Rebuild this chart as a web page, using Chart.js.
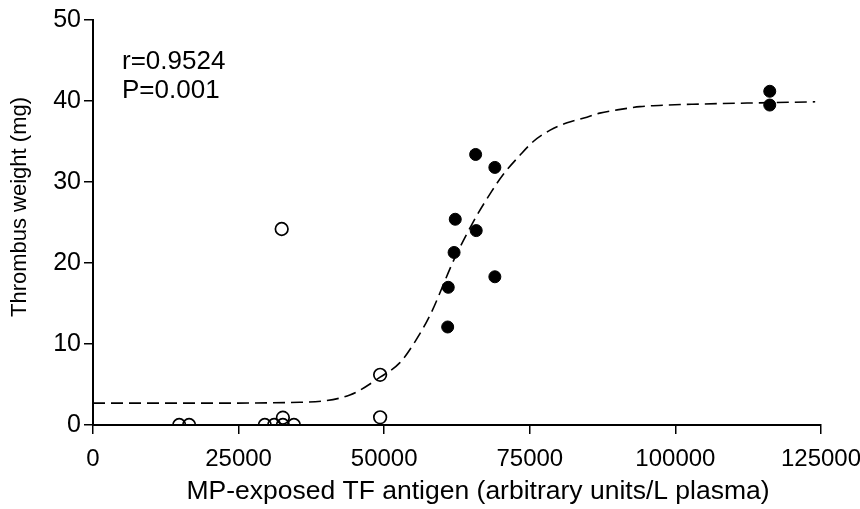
<!DOCTYPE html>
<html lang="en">
<head>
  <meta charset="UTF-8">
  <title>Thrombus weight vs MP-exposed TF antigen</title>
  <script src="https://cdn.jsdelivr.net/npm/chart.js"></script>
  <style>
    body { margin: 0; background: #ffffff; }
  </style>
</head>
<body>
  <canvas id="chart" width="860" height="509"></canvas>
  <script>
    // open circles (x, y)
    const openX = [14800, 16500, 29500, 31100, 32600, 32600, 34500, 32400, 49300, 49300];
    const openY = [0, 0, 0, 0, 0, 0.9, 0, 24.2, 6.2, 0.95];

    // filled circles
    const filledX = [65700, 69000, 62200, 65800, 62000, 69000, 61000, 60900, 116200, 116200];
    const filledY = [33.4, 31.8, 25.4, 24.0, 21.3, 18.3, 17.0, 12.1, 41.2, 39.5];

    // fitted curve
    const curveX = [0, 18000, 35500, 44100, 49300, 52700, 55300, 57900, 62100, 65700, 68500, 70400, 73300, 75600, 78500, 81400, 84800, 87000, 90000, 93900, 98600, 103000, 124000];
    const curveY = [2.7, 2.7, 2.8, 3.7, 5.9, 7.7, 10.3, 13.6, 20.6, 25.6, 28.9, 30.9, 33.3, 35.0, 36.4, 37.3, 38.0, 38.5, 38.9, 39.3, 39.5, 39.6, 39.9];

    const xTicks = [0, 25000, 50000, 75000, 100000, 125000];
    const yTicks = [0, 10, 20, 30, 40, 50];

    const xTitle = 'MP-exposed TF antigen (arbitrary units/L plasma)';
    const yTitle = 'Thrombus weight (mg)';
    const statLines = ['r=0.9524', 'P=0.001'];

    const toPts = (xs, ys) => xs.map((x, i) => ({ x: x, y: ys[i] }));

    const family = '"Liberation Sans", Arial, sans-serif';

    // stats block and axis titles (titles are off-centre in the original)
    const extraText = {
      id: 'extraText',
      afterDraw(chart) {
        const ctx = chart.ctx;
        ctx.save();
        ctx.fillStyle = '#000';
        ctx.textBaseline = 'middle';
        ctx.font = '26px ' + family;
        ctx.fillText(statLines[0], 122, 62);
        ctx.fillText(statLines[1], 122, 91);
        ctx.font = '26.5px ' + family;
        ctx.textAlign = 'center';
        ctx.fillText(xTitle, 478, 492);
        ctx.translate(20, 207);
        ctx.rotate(-Math.PI / 2);
        ctx.font = '22px ' + family;
        ctx.fillText(yTitle, 0, 0);
        ctx.restore();
      }
    };

    new Chart(document.getElementById('chart'), {
      type: 'scatter',
      data: {
        datasets: [
          {
            type: 'line',
            data: toPts(curveX, curveY),
            borderColor: '#000',
            borderWidth: 1.6,
            borderDash: [12, 6],
            pointRadius: 0,
            fill: false,
            cubicInterpolationMode: 'monotone'
          },
          {
            data: toPts(openX, openY),
            pointRadius: 6.3,
            pointBorderWidth: 1.7,
            pointBorderColor: '#000',
            pointBackgroundColor: 'rgba(255,255,255,0)'
          },
          {
            data: toPts(filledX, filledY),
            pointRadius: 6,
            pointBorderWidth: 1,
            pointBorderColor: '#000',
            pointBackgroundColor: '#000'
          }
        ]
      },
      options: {
        responsive: false,
        animation: false,
        devicePixelRatio: 1,
        layout: { padding: { top: 20, right: 0, bottom: 0, left: 0 } },
        plugins: { legend: { display: false }, tooltip: { enabled: false } },
        scales: {
          x: {
            type: 'linear',
            min: 0,
            max: 125000,
            afterBuildTicks: s => { s.ticks = xTicks.map(v => ({ value: v })); },
            afterFit: s => { s.height = 84; s.paddingLeft = 0; s.paddingRight = 39; },
            grid: { drawOnChartArea: false, drawTicks: true, tickLength: 9, color: '#000', lineWidth: 1.5 },
            border: { color: '#000', width: 2 },
            ticks: { color: '#000', font: { family: family, size: 24 }, padding: 11, maxRotation: 0, callback: v => String(v) },
            title: { display: false }
          },
          y: {
            min: 0,
            max: 50,
            afterBuildTicks: s => { s.ticks = yTicks.map(v => ({ value: v })); },
            afterFit: s => { s.width = 93; s.paddingTop = 0; s.paddingBottom = 0; },
            grid: { drawOnChartArea: false, drawTicks: true, tickLength: 9, color: '#000', lineWidth: 1.5 },
            border: { color: '#000', width: 2 },
            ticks: { color: '#000', font: { family: family, size: 25 }, padding: 3, callback: v => String(v) },
            title: { display: false }
          }
        }
      },
      plugins: [extraText]
    });
  </script>
</body>
</html>
